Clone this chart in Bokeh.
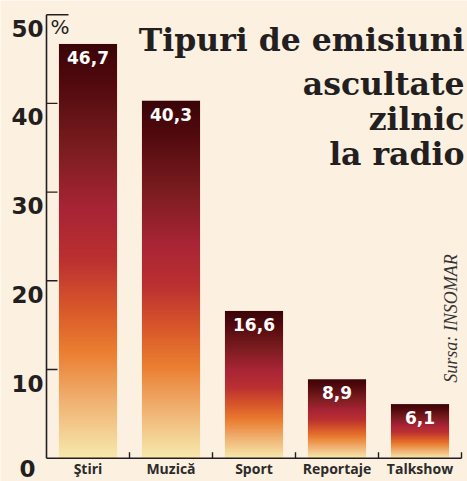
import numpy as np
from bokeh.plotting import figure
from bokeh.models import Range1d, Label
from bokeh.core.properties import value
from bokeh.embed import file_html
from bokeh.resources import INLINE

# ---------------- data ----------------
categories = ["Ştiri", "Muzică", "Sport", "Reportaje", "Talkshow"]
values = [46.7, 40.3, 16.6, 8.9, 6.1]
value_labels = ["46,7", "40,3", "16,6", "8,9", "6,1"]
y_ticks = [0, 10, 20, 30, 40, 50]
y_tick_labels = ["0", "10", "20", "30", "40", "50"]
title_lines = ["Tipuri de emisiuni", "ascultate", "zilnic", "la radio"]
unit_text = "%"
source_text = "Sursa: INSOMAR"

# ---------------- layout / style ----------------
BG = "#fcf0e0"
INK = "#231f20"
W, H = 467, 481
X0, DX = 87.5, 83.0     # px of first category centre, px per category
Y0, DY = 457.7, 8.87    # px of value 0, px per unit


def cx(px):
    return (px - X0) / DX


def cy(py):
    return (Y0 - py) / DY


p = figure(width=W, height=H,
           x_range=Range1d(cx(0), cx(W)), y_range=Range1d(cy(H), cy(0)),
           output_backend="svg", toolbar_location=None, min_border=0,
           background_fill_color=BG, border_fill_color=BG)
p.axis.visible = False
p.grid.visible = False
p.outline_line_color = None

# gradient stops (fraction from the bar top -> colour)
stops_f = [0.00, 0.10, 0.25, 0.40, 0.52, 0.64, 0.74, 0.86, 1.00]
stops_c = ["#3a0407", "#520a0e", "#7a1c1f", "#a82436", "#bb3030",
           "#d9582a", "#ea7d30", "#f0b070", "#f7eaae"]
stops_rgb = np.array([[int(c[i:i + 2], 16) for i in (1, 3, 5)] for c in stops_c], float)

M = 256
frac_top = 1 - (np.arange(M) + 0.5) / M          # row 0 is the bottom of the image
grad = np.empty((M, 1), dtype=np.uint32)
g8 = grad.view(dtype=np.uint8).reshape((M, 1, 4))
for ch in range(3):
    g8[:, 0, ch] = np.round(np.interp(frac_top, stops_f, stops_rgb[:, ch])).astype(np.uint8)
g8[:, 0, 3] = 255

BAR_W = 0.70
n = len(categories)
xs = list(range(n))
p.image_rgba(image=[grad] * n, x=[i - BAR_W / 2 for i in xs], y=[0] * n,
             dw=[BAR_W] * n, dh=values)

# axes drawn as lines
p.segment(x0=[-0.5], y0=[y_ticks[0]], x1=[-0.5], y1=[y_ticks[-1]],
          line_color=INK, line_width=1.6)
p.segment(x0=[-0.5], y0=[0], x1=[n - 0.5], y1=[0], line_color=INK, line_width=1.6)
inner = y_ticks[1:-1]
p.segment(x0=[-0.5] * len(inner), y0=inner, x1=[-0.5 + 11 / DX] * len(inner), y1=inner,
          line_color=INK, line_width=1.4)
p.segment(x0=[-0.5], y0=[y_ticks[-1]], x1=[-0.5 + 22 / DX], y1=[y_ticks[-1]],
          line_color=INK, line_width=1.4)
bx = [i + 0.5 for i in xs]
p.segment(x0=bx, y0=[0] * n, x1=bx, y1=[6 / DY] * n, line_color=INK, line_width=1.4)

# y tick labels
p.text(x=[cx(27)] * len(y_ticks), y=y_ticks, text=y_tick_labels,
       text_align="center", text_baseline="top",
       y_offset=[2] + [5] * (len(y_ticks) - 1),
       text_font=value("DejaVu Sans"), text_font_style="bold",
       text_font_size="23px", text_color=INK)

# category labels
p.text(x=xs, y=[0] * n, text=categories, text_align="center", text_baseline="top",
       y_offset=1, text_font=value("Open Sans"), text_font_style="bold",
       text_font_size="14px", text_color="#2b2b2b")

# value labels
p.text(x=xs, y=values, text=value_labels, text_align="center", text_baseline="top",
       y_offset=7, text_font=value("DejaVu Sans"), text_font_style="bold",
       text_font_size="17px", text_color="white")

# title
baselines = [39, 83, 118, 153]
for line, by in zip(title_lines, baselines):
    p.add_layout(Label(x=cx(464), y=cy(by), text=line, text_align="right",
                       text_baseline="alphabetic", text_font="DejaVu Serif",
                       text_font_style="bold", text_font_size="31.5px",
                       text_color=INK))

# unit
p.add_layout(Label(x=cx(50), y=cy(14), text=unit_text, text_align="left",
                   text_baseline="top", text_font="DejaVu Sans",
                   text_font_size="20px", text_color=INK))

# source
p.add_layout(Label(x=cx(450), y=cy(318), text=source_text, angle=np.pi / 2,
                   text_align="center", text_baseline="middle",
                   text_font="Liberation Serif", text_font_style="italic",
                   text_font_size="18px", text_color="#333333"))

html = file_html(p, INLINE)
html = html.replace("<body>", '<body style="background-color:%s;">' % BG, 1)
open("out.html", "w").write(html)
